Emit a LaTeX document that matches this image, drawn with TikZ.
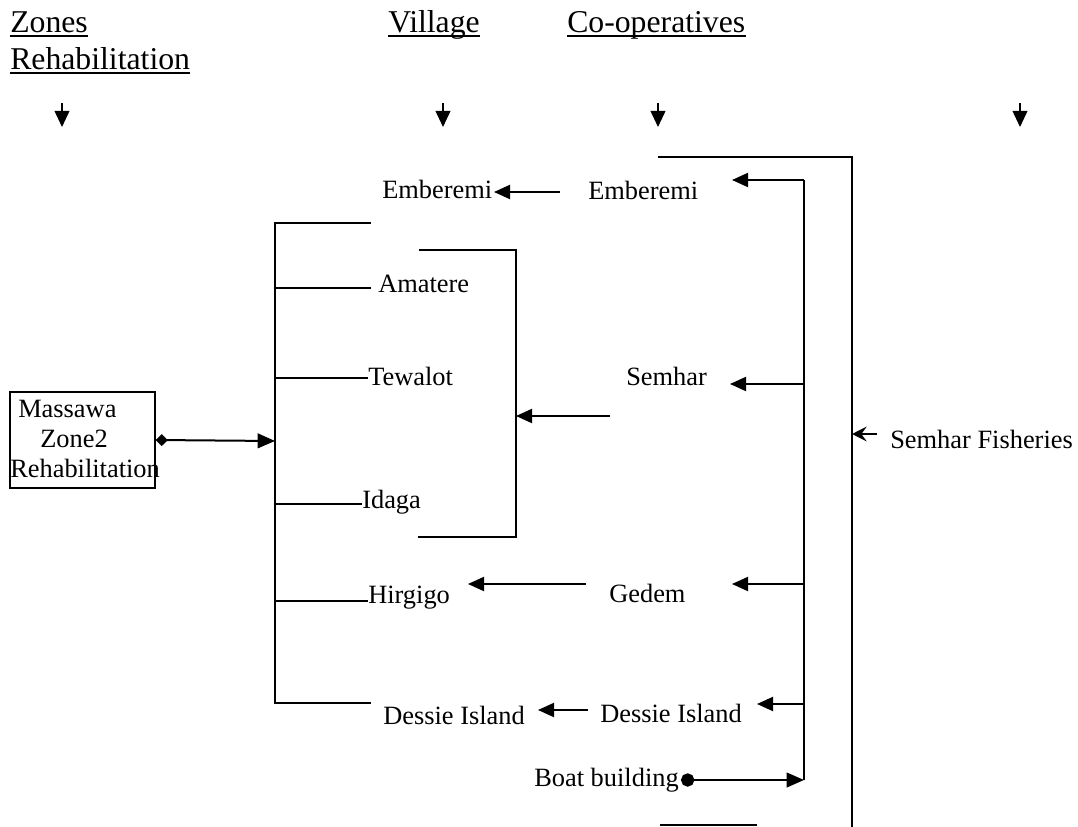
\documentclass[tikz,border=0pt]{standalone}
\usepackage{fontspec}
\setmainfont{Liberation Serif}
\usetikzlibrary{arrows.meta}
\begin{document}
\begin{tikzpicture}[x=0.75pt,y=-0.75pt,
  lbl/.style={anchor=base west, inner sep=0pt, font=\fontsize{19.8}{22}\selectfont},
  hdr/.style={anchor=base west, inner sep=0pt, font=\fontsize{23.8}{28}\selectfont},
  uline/.style={line width=1.1pt},
  ln/.style={line width=1.5pt},
  thinln/.style={line width=1.1pt},
  arr/.style={ln, -{Triangle[length=12pt,width=10.5pt]}},
  downarr/.style={line width=1.3pt, -{Triangle[length=12pt,width=11pt]}}]
\useasboundingbox (0,0) rectangle (1078,827);

% headers
\node[hdr] (hzones) at (10,33) {Zones};
\node[hdr] (hrehab) at (10,70) {Rehabilitation};
\node[hdr] (hvill) at (388,33) {Village};
\node[hdr] (hcoop) at (567,33) {Co-operatives};
\foreach \h in {hzones,hrehab,hvill,hcoop}
  \draw[uline] ([yshift=-2.4pt]\h.base west) -- ([yshift=-2.4pt]\h.base east);

% down arrows
\foreach \n/\x in {a/62,b/443,c/658,d/1020}{
  \coordinate (d\n1) at (\x,103);
  \coordinate (d\n2) at (\x,127);
  \draw[downarr] (d\n1) -- (d\n2);
}

% Massawa box
\node[draw, thinln, minimum width=108.75pt, minimum height=72pt, inner sep=0pt] (box) at (82.5,440) {};
\node[lbl] (bm) at (18,417) {Massawa};
\node[lbl] (bz) at (40,447) {Zone2};
\node[lbl] (br) at (10,477) {Rehabilitation};
\coordinate (Lmid) at (275,441);
\draw[ln, {Turned Square[length=9pt,width=9pt]}-{Triangle[length=13pt,width=11pt]}] (box.east) -- (Lmid);

% left bracket
\coordinate (Lt0) at (371,223);
\coordinate (Lt) at (275,223);
\coordinate (Lb) at (275,703);
\coordinate (Lb0) at (371,703);
\draw[thinln] (Lt0) -- (Lt) -- (Lb) -- (Lb0);
\foreach \n/\y/\e in {am/288/371,te/378/368,id/504/362,hi/601/368}{
  \coordinate (s\n) at (275,\y);
  \coordinate (e\n) at (\e,\y);
  \draw[thinln] (s\n) -- (e\n);
}

% village labels
\node[lbl] (vEmb) at (382,199) {Emberemi};
\node[lbl] (vAma) at (378,293) {Amatere};
\node[lbl] (vTew) at (368,385) {Tewalot};
\node[lbl] (vIda) at (362,508) {Idaga};
\node[lbl] (vHir) at (368,603) {Hirgigo};
\node[lbl] (vDes) at (383,724) {Dessie Island};

% right bracket (Amatere..Idaga group)
\coordinate (Rt0) at (419,250);
\coordinate (Rt) at (516,250);
\coordinate (Rb) at (516,537);
\coordinate (Rb0) at (418,537);
\draw[ln] (Rt0) -- (Rt) -- (Rb) -- (Rb0);

% co-operative labels
\node[lbl] (cEmb) at (588,200) {Emberemi};
\node[lbl] (cSem) at (626,385) {Semhar};
\node[lbl] (cGed) at (609,602) {Gedem};
\node[lbl] (cDes) at (600,722) {Dessie Island};
\node[lbl] (cBoat) at (534,786) {Boat building};

% co-op -> village arrows
\coordinate (a1s) at (560,192); \coordinate (a1e) at (494,192);
\coordinate (a2s) at (610,416); \coordinate (a2e) at (516,416);
\coordinate (a3s) at (586,584); \coordinate (a3e) at (468,584);
\coordinate (a4s) at (588,710); \coordinate (a4e) at (538,710);
\draw[arr] (a1s) -- (a1e);
\draw[arr] (a2s) -- (a2e);
\draw[arr] (a3s) -- (a3e);
\draw[arr] (a4s) -- (a4e);

% distribution line at x=804
\coordinate (Vt) at (804,180);
\coordinate (Vs) at (804,384);
\coordinate (Vg) at (804,584);
\coordinate (Vd) at (804,704);
\coordinate (Vb) at (804,780);
\draw[ln] (Vt) -- (Vb);
\coordinate (t1) at (732,180);
\coordinate (t2) at (730,384);
\coordinate (t3) at (732,584);
\coordinate (t4) at (757,704);
\draw[arr] (Vt) -- (t1);
\draw[arr] (Vs) -- (t2);
\draw[arr] (Vg) -- (t3);
\draw[arr] (Vd) -- (t4);

% boat building
\coordinate (bdot) at (681,780);
\draw[ln, {Circle[length=10pt]}-{Triangle[length=13pt,width=11pt]}] (bdot) -- (Vb);

% big bracket for Semhar Fisheries
\coordinate (Bt0) at (658,157);
\coordinate (Bt) at (852,157);
\coordinate (Bb) at (852,827);
\draw[ln] (Bt0) -- (Bt) -- (Bb);
\coordinate (Bl0) at (660,825);
\coordinate (Bl1) at (757,825);
\draw[ln] (Bl0) -- (Bl1);

\node[lbl] (sf) at (890,448) {Semhar Fisheries};
\coordinate (sfa) at (877,434);
\coordinate (sfb) at (852,434);
\draw[line width=1.4pt, -{Stealth[length=11pt,width=11pt,inset=4pt]}] (sfa) -- (sfb);
\end{tikzpicture}
\end{document}
